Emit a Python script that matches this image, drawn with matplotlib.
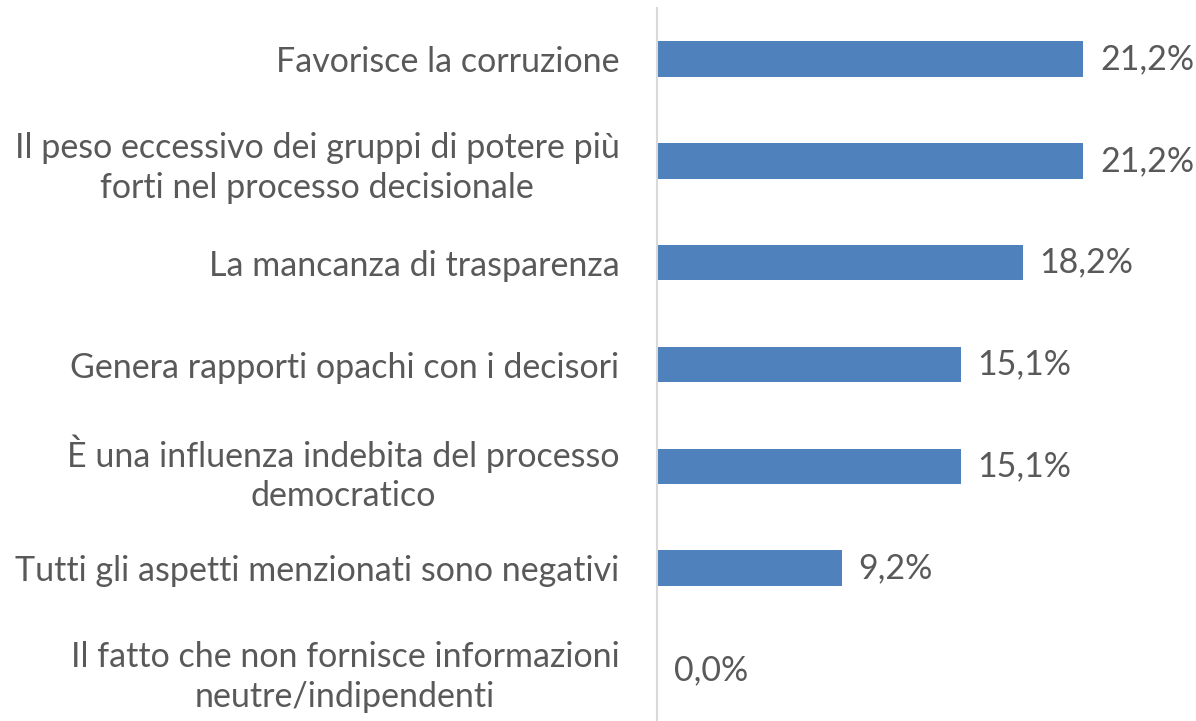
import matplotlib
matplotlib.use("Agg")
import matplotlib.pyplot as plt

categories = [
    "Favorisce la corruzione",
    "Il peso eccessivo dei gruppi di potere più\nforti nel processo decisionale",
    "La mancanza di trasparenza",
    "Genera rapporti opachi con i decisori",
    "È una influenza indebita del processo\ndemocratico",
    "Tutti gli aspetti menzionati sono negativi",
    "Il fatto che non fornisce informazioni\nneutre/indipendenti",
]
values = [21.2, 21.2, 18.2, 15.1, 15.1, 9.2, 0.0]
value_labels = ["21,2%", "21,2%", "18,2%", "15,1%", "15,1%", "9,2%", "0,0%"]

BAR = "#4F81BD"
TXT = "#595959"
FONT = "Lato"
FS = 24.5

fig = plt.figure(figsize=(11.96, 7.21), dpi=100)
W, H = 1196, 721
ax = fig.add_axes([657 / W, 0, (1196 - 657) / W, (721 - 8) / H])

y = list(range(len(categories)))
ax.barh(y, values, height=0.35, color=BAR)
ax.set_ylim(len(categories) - 0.5, -0.5)
ax.set_xlim(0, 26.8)

for yi, v, lab in zip(y, values, value_labels):
    ax.annotate(lab, (v, yi), xytext=(12, 0), textcoords="offset points",
                ha="left", va="center", fontsize=FS, color=TXT, family=FONT)

ax.set_yticks(y)
ax.set_yticklabels(categories, fontsize=FS, color=TXT, family=FONT,
                   linespacing=1.3, multialignment="center")
ax.tick_params(axis="y", length=0, pad=27)
ax.set_xticks([])
for s in ["top", "right", "bottom"]:
    ax.spines[s].set_visible(False)
ax.spines["left"].set_color("#D9D9D9")
ax.spines["left"].set_linewidth(1.5)

fig.savefig("out.png", dpi=100)
